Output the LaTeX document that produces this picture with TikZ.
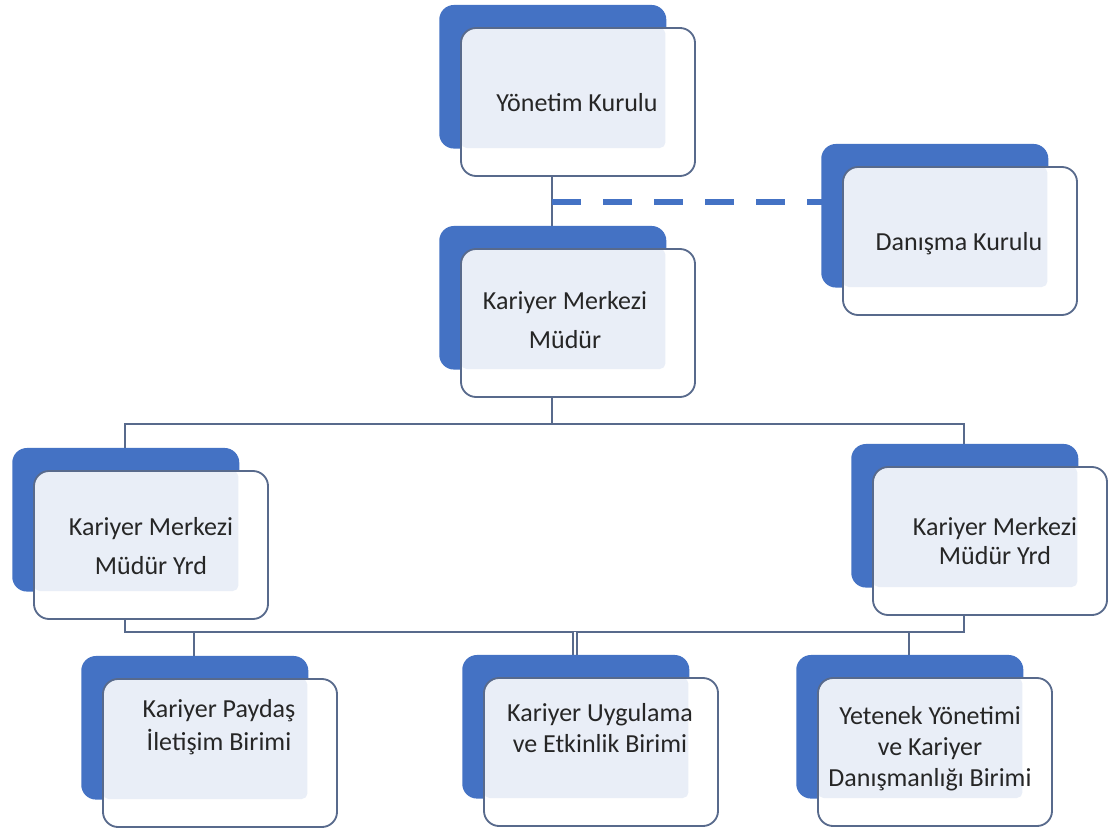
\documentclass[tikz,border=0pt]{standalone}
\usepackage{fontspec}
\setmainfont{Carlito}
\usetikzlibrary{shadows,backgrounds}
\definecolor{boxblue}{RGB}{68,114,196}
\definecolor{boxlight}{RGB}{233,238,247}
\definecolor{boxedge}{RGB}{88,106,140}
\definecolor{textgray}{RGB}{38,38,38}

\tikzset{
  orgbox/.style={rounded corners=0.38cm, draw=boxedge, line width=1.3pt, fill=white,
    minimum width=5.85cm, minimum height=3.7cm, inner sep=0pt,
    general shadow={fill=boxblue, shadow scale=0.97, shadow xshift=-0.65cm, shadow yshift=0.65cm},
    path picture={\fill[boxlight, rounded corners=4pt] (path picture bounding box.north west) rectangle ++(5.11cm,-3.0cm);}},
  orgtext/.style={font=\fontsize{18.5}{28}\selectfont, text=textgray, align=center, inner sep=0pt},
  orgline/.style={draw=boxedge, line width=1.8pt},
  dashline/.style={draw=boxblue, line width=4.3pt, dash pattern=on 0.725cm off 0.55cm}
}

\begin{document}
\begin{tikzpicture}[x=0.025cm, y=-0.025cm]
  % canvas in pixels of the 1108 x 832 sheet, y grows downwards
  \useasboundingbox (0,0) rectangle (1108,832);

  % boxes (front card; the blue card behind is the shadow)
  \node[orgbox] (yk) at (578,102) {};
  \node[orgbox] (dk) at (960,241) {};
  \node[orgbox] (mud) at (578,323) {};
  \node[orgbox] (yrdL) at (151,545) {};
  \node[orgbox] (yrdR) at (990,541) {};
  \node[orgbox] (bot1) at (220,753) {};
  \node[orgbox] (bot2) at (601,752) {};
  \node[orgbox] (bot3) at (935,752) {};

  % labels
  \node[orgtext] (yk-t) at (577,103) {Yönetim Kurulu};
  \node[orgtext] (dk-t) at (959,244) {Danışma Kurulu};
  \node[orgtext] (mud-t) at (565,320) {Kariyer Merkezi\\Müdür};
  \node[orgtext] (yrdL-t) at (151,546) {Kariyer Merkezi\\Müdür Yrd};
  \node[orgtext, font=\fontsize{18.5}{20.6}\selectfont] (yrdR-t) at (995,541) {Kariyer Merkezi\\Müdür Yrd};
  \node[orgtext, font=\fontsize{18.5}{23.5}\selectfont] (bot1-t) at (219,727) {Kariyer Paydaş\\İletişim Birimi};
  \node[orgtext, font=\fontsize{18.5}{22}\selectfont] (bot2-t) at (600,728) {Kariyer Uygulama\\ve Etkinlik Birimi};
  \node[orgtext, font=\fontsize{18.5}{22}\selectfont] (bot3-t) at (930,749) {Yetenek Yönetimi\\ve Kariyer\\Danışmanlığı Birimi};

  % centres of the blue back cards
  \foreach \b in {yk,mud,yrdL,yrdR,bot1,bot2,bot3}
    \coordinate (\b-b) at ([shift={(-26,-26)}]\b.center);
  \coordinate (dj) at (552,202);
  \coordinate (bus1) at (552,424);
  \coordinate (bus2) at (552,632);

  \begin{scope}[on background layer]
    \fill[white] (0,0) rectangle (1108,832);
    % board -> director, dashed link to the advisory board
    \draw[orgline] (yk-b) -- (mud-b);
    \draw[dashline] (dj) -- (dj -| dk.center);
    % director -> deputies
    \draw[orgline] (mud-b) -- (bus1);
    \draw[orgline] (yrdL-b) |- (bus1) -| (yrdR-b);
    % deputies -> units
    \draw[orgline] (yrdL-b) |- (bus2) -| (yrdR-b);
    \draw[orgline] (bot1-b) -- (bot1-b |- bus2);
    \draw[draw=boxedge, line width=1pt, double=white, double distance=1.6pt] (bot2-b) -- (bot2-b |- bus2);
    \draw[orgline] (bot3-b) -- (bot3-b |- bus2);
  \end{scope}
\end{tikzpicture}
\end{document}
